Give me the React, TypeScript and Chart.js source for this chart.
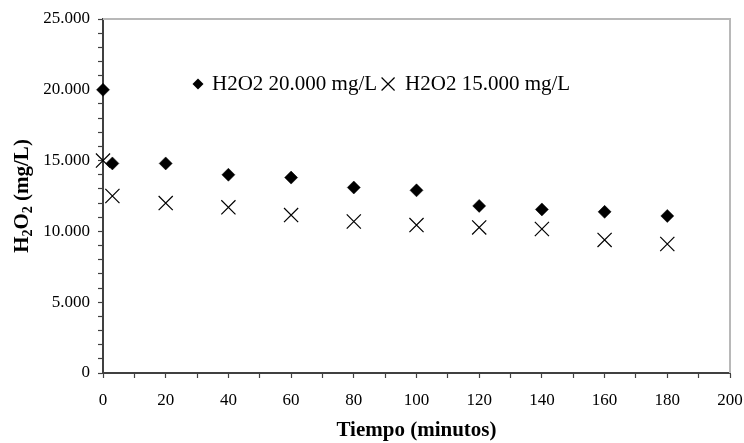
import React, { useEffect, useRef } from "react";
import { Chart, registerables } from "chart.js";

Chart.register(...registerables);

const timesA = [0, 3, 20, 40, 60, 80, 100, 120, 140, 160, 180];
const valuesA = [20000, 14800, 14800, 14000, 13800, 13100, 12900, 11800, 11550, 11380, 11090];
const timesB = [0, 3, 20, 40, 60, 80, 100, 120, 140, 160, 180];
const valuesB = [15000, 12500, 12000, 11700, 11150, 10700, 10450, 10280, 10170, 9400, 9110];
const labelA = "H2O2 20.000 mg/L";
const labelB = "H2O2 15.000 mg/L";
const xTitle = "Tiempo (minutos)";

const FONT = '"Liberation Serif", "Times New Roman", serif';
const AXIS = "#404040";

const fmtThousands = (v: number) => {
  if (v === 0) return "0";
  const s = Math.round(v).toString();
  return s.replace(/\B(?=(\d{3})+(?!\d))/g, ".");
};

const decorPlugin = {
  id: "decor",
  beforeDatasetsDraw(chart: any) {
    const { ctx, chartArea } = chart;
    ctx.save();
    ctx.strokeStyle = "#b8b8b8";
    ctx.lineWidth = 2;
    ctx.beginPath();
    ctx.moveTo(chartArea.left, chartArea.top);
    ctx.lineTo(chartArea.right, chartArea.top);
    ctx.lineTo(chartArea.right, chartArea.bottom);
    ctx.stroke();
    ctx.restore();
  },
  afterDraw(chart: any) {
    const { ctx, chartArea } = chart;
    // Legend
    ctx.save();
    ctx.fillStyle = "#000";
    ctx.strokeStyle = "#000";
    ctx.font = `21px ${FONT}`;
    ctx.textBaseline = "middle";
    ctx.textAlign = "left";
    const ly = chartArea.top + 65;
    const x = chartArea.left + 95;
    const r = 5.5;
    ctx.beginPath();
    ctx.moveTo(x, ly - r);
    ctx.lineTo(x + r, ly);
    ctx.lineTo(x, ly + r);
    ctx.lineTo(x - r, ly);
    ctx.closePath();
    ctx.fill();
    const labels = chart.data.datasets.map((d: any) => d.label);
    const tx = x + 14;
    ctx.fillText(labels[0], tx, ly);
    const w0 = ctx.measureText(labels[0]).width;
    const cx = tx + w0 + 11;
    const h = 6.5;
    ctx.lineWidth = 1.2;
    ctx.beginPath();
    ctx.moveTo(cx - h, ly - h);
    ctx.lineTo(cx + h, ly + h);
    ctx.moveTo(cx + h, ly - h);
    ctx.lineTo(cx - h, ly + h);
    ctx.stroke();
    ctx.fillText(labels[1], cx + 17, ly);
    ctx.restore();

    // Y title with subscripts
    ctx.save();
    const cy = (chartArea.top + chartArea.bottom) / 2;
    ctx.translate(21, cy);
    ctx.rotate(-Math.PI / 2);
    ctx.fillStyle = "#000";
    ctx.textBaseline = "alphabetic";
    ctx.textAlign = "left";
    const big = `bold 21px ${FONT}`;
    const small = `bold 14px ${FONT}`;
    const segs: [string, string, number][] = [
      ["H", big, 0],
      ["2", small, 4],
      ["O", big, 0],
      ["2", small, 4],
      [" (mg/L)", big, 0],
    ];
    let total = 0;
    for (const [t, f] of segs) {
      ctx.font = f;
      total += ctx.measureText(t).width;
    }
    let px = -total / 2;
    for (const [t, f, dy] of segs) {
      ctx.font = f;
      ctx.fillText(t, px, 7 + dy);
      px += ctx.measureText(t).width;
    }
    ctx.restore();
  },
};

export default function App() {
  const canvasRef = useRef<HTMLCanvasElement | null>(null);

  useEffect(() => {
    document.body.style.margin = "0";
    const canvas = canvasRef.current;
    if (!canvas) return;
    const chart = new Chart(canvas, {
      type: "scatter",
      data: {
        datasets: [
          {
            label: labelA,
            data: timesA.map((t, i) => ({ x: t, y: valuesA[i] })),
            pointStyle: "rectRot",
            pointRadius: 6.5,
            pointBorderWidth: 0.5,
            backgroundColor: "#000",
            borderColor: "#000",
            clip: false as any,
          },
          {
            label: labelB,
            data: timesB.map((t, i) => ({ x: t, y: valuesB[i] })),
            pointStyle: "crossRot",
            pointRadius: 10,
            pointBorderWidth: 1.2,
            backgroundColor: "#000",
            borderColor: "#000",
            clip: false as any,
          },
        ],
      },
      options: {
        animation: false,
        responsive: true,
        maintainAspectRatio: false,
        layout: { padding: { top: 19, right: 14, left: 0, bottom: 0 } },
        plugins: {
          legend: { display: false },
          tooltip: { enabled: false },
        },
        scales: {
          x: {
            type: "linear",
            min: 0,
            max: 200,
            afterFit: (s: any) => {
              s.height = 70;
              s.paddingLeft = 0;
              s.paddingRight = 0;
            },
            grid: {
              drawOnChartArea: false,
              drawTicks: true,
              tickLength: 5,
              tickColor: AXIS,
              tickWidth: 1.2,
            },
            border: { color: AXIS, width: 2 },
            ticks: {
              stepSize: 10,
              autoSkip: false,
              maxRotation: 0,
              padding: 12,
              color: "#000",
              font: { family: FONT, size: 17 },
              callback: (v: any) => (Number(v) % 20 === 0 ? String(v) : ""),
            },
            title: {
              display: true,
              text: xTitle,
              color: "#000",
              font: { family: FONT, size: 21, weight: "bold" },
              padding: { top: 0, bottom: 0 },
            },
          },
          y: {
            type: "linear",
            min: 0,
            max: 25000,
            afterFit: (s: any) => {
              s.width = 103;
              s.paddingTop = 0;
              s.paddingBottom = 0;
            },
            grid: {
              drawOnChartArea: false,
              drawTicks: true,
              tickLength: 5,
              tickColor: AXIS,
              tickWidth: 1.2,
            },
            border: { color: AXIS, width: 2 },
            ticks: {
              stepSize: 1000,
              autoSkip: false,
              padding: 8,
              color: "#000",
              font: { family: FONT, size: 17 },
              callback: (v: any) => (Number(v) % 5000 === 0 ? fmtThousands(Number(v)) : ""),
            },
          },
        },
      },
      plugins: [decorPlugin],
    });
    return () => chart.destroy();
  }, []);

  return (
    <div style={{ position: "relative", width: 744, height: 443 }}>
      <canvas ref={canvasRef} />
    </div>
  );
}
